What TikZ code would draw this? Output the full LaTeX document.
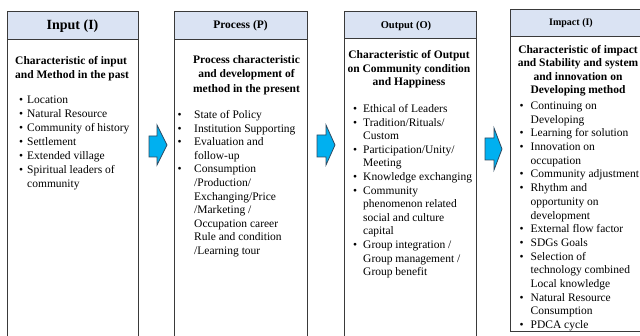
\documentclass[tikz,border=0pt]{standalone}
\usepackage{fontspec}
\setmainfont{Liberation Serif}
\usepackage{array}

\definecolor{headblue}{HTML}{DAE3F3}
\definecolor{arrowblue}{HTML}{00B0F0}
\definecolor{boxgray}{HTML}{3A3A3A}
\definecolor{arrowedge}{HTML}{2E4A62}

\tikzset{
  boxline/.style={draw=boxgray, line width=1pt},
  headbox/.style={boxline, fill=headblue},
  headtext/.style={inner sep=0pt, font=\bfseries},
  subtext/.style={inner sep=0pt, anchor=base, font=\bfseries\fontsize{11.5}{13.7}\selectfont},
  listtext/.style={inner sep=0pt, anchor=base west, font=\fontsize{11.5}{13.7}\selectfont},
  blockarrow/.style={draw=arrowedge, fill=arrowblue, line width=0.8pt, line join=miter}
}
\newcommand{\bul}{\textbullet}

\begin{document}
\begin{tikzpicture}[x=1pt, y=-1pt]
    \useasboundingbox (0,0) rectangle (640,336);
    \clip (0,0) rectangle (640,336);
    \fill[white] (0,0) rectangle (640,336);

    % Input
    \draw[headbox] (7,12) rectangle (138,40);
    \draw[boxline] (7,40) rectangle (138,345);
    \node[headtext, font=\bfseries\fontsize{14}{16}\selectfont] (inputhead) at (72.5,26) {Input (I)};
    \node[subtext, anchor=base west] (inputsub) at (15,64.5)
      {\begin{tabular}[t]{@{}l@{}}Characteristic of input\\ and Method in the past\end{tabular}};
    \node[listtext, font=\fontsize{11.5}{14}\selectfont] (inputlist) at (19,103.5)
      {\begin{tabular}[t]{@{}p{8pt}@{}l@{}}
        \bul & Location\\
        \bul & Natural Resource\\
        \bul & Community of history\\
        \bul & Settlement\\
        \bul & Extended village\\
        \bul & Spiritual leaders of\\
             & community
      \end{tabular}};

    % Process
    \draw[headbox] (174,12) rectangle (307,40);
    \draw[boxline] (174,40) rectangle (307,345);
    \node[headtext, font=\bfseries\fontsize{11.5}{14}\selectfont] (processhead) at (240.5,26) {Process (P)};
    \node[subtext] (processsub) at (246.5,63.5)
      {\begin{tabular}[t]{@{}c@{}}Process characteristic\\[0.8pt] and development of\\[0.8pt] method in the present\end{tabular}};
    \node[listtext, font=\fontsize{11.5}{13.6}\selectfont] (processlist) at (177.5,118.5)
      {\begin{tabular}[t]{@{}p{16.5pt}@{}l@{}}
        \bul & State of Policy\\
        \bul & Institution Supporting\\
        \bul & Evaluation and\\
             & follow-up\\
        \bul & Consumption\\
             & /Production/\\
             & Exchanging/Price\\
             & /Marketing /\\
             & Occupation career\\
             & Rule and condition\\
             & /Learning tour
      \end{tabular}};

    % Output
    \draw[headbox] (344,12) rectangle (476,39);
    \draw[boxline] (344,39) rectangle (476,345);
    \node[headtext, font=\bfseries\fontsize{10.5}{13}\selectfont] (outputhead) at (406,25.5) {Output (O)};
    \node[subtext] (outputsub) at (409,58.5)
      {\begin{tabular}[t]{@{}c@{}}Characteristic of Output\\ on Community condition\\ and Happiness\end{tabular}};
    \node[listtext, font=\fontsize{11.5}{13.6}\selectfont] (outputlist) at (353,112.5)
      {\begin{tabular}[t]{@{}p{10pt}@{}l@{}}
        \bul & Ethical of Leaders\\
        \bul & Tradition/Rituals/\\
             & Custom\\
        \bul & Participation/Unity/\\
             & Meeting\\
        \bul & Knowledge exchanging\\
        \bul & Community\\
             & phenomenon related\\
             & social and culture\\
             & capital\\
        \bul & Group integration /\\
             & Group management /\\
             & Group benefit
      \end{tabular}};

    % Impact
    \draw[headbox] (510,10) rectangle (650,37);
    \draw[boxline] (510,37) rectangle (650,332);
    \node[headtext, font=\bfseries\fontsize{10}{12}\selectfont] (impacthead) at (571,23.5) {Impact (I)};
    \node[subtext, font=\bfseries\fontsize{11.5}{13.3}\selectfont] (impactsub) at (578,53.5)
      {\begin{tabular}[t]{@{}c@{}}Characteristic of impact\\ and Stability and system\\ and innovation on\\ Developing method\end{tabular}};
    \node[listtext] (impactlist) at (519.5,109.5)
      {\begin{tabular}[t]{@{}p{11pt}@{}l@{}}
        \bul & Continuing on\\
             & Developing\\
        \bul & Learning for solution\\
        \bul & Innovation on\\
             & occupation\\
        \bul & Community adjustment\\
        \bul & Rhythm and\\
             & opportunity on\\
             & development\\
        \bul & External flow factor\\
        \bul & SDGs Goals\\
        \bul & Selection of\\
             & technology combined\\
             & Local knowledge\\
        \bul & Natural Resource\\
             & Consumption\\
        \bul & PDCA cycle
      \end{tabular}};

    % arrows between the stages
    \draw[blockarrow] (149,136) -- (157,136) -- (157,125) -- (167,145) -- (157,165) -- (157,157) -- (149,157) -- cycle;
    \draw[blockarrow] (317,135) -- (326,135) -- (326,125) -- (335,145) -- (326,165) -- (326,157) -- (317,157) -- cycle;
    \draw[blockarrow] (485,138) -- (494,138) -- (494,128) -- (502,149) -- (494,170) -- (494,160) -- (485,160) -- cycle;
\end{tikzpicture}
\end{document}
